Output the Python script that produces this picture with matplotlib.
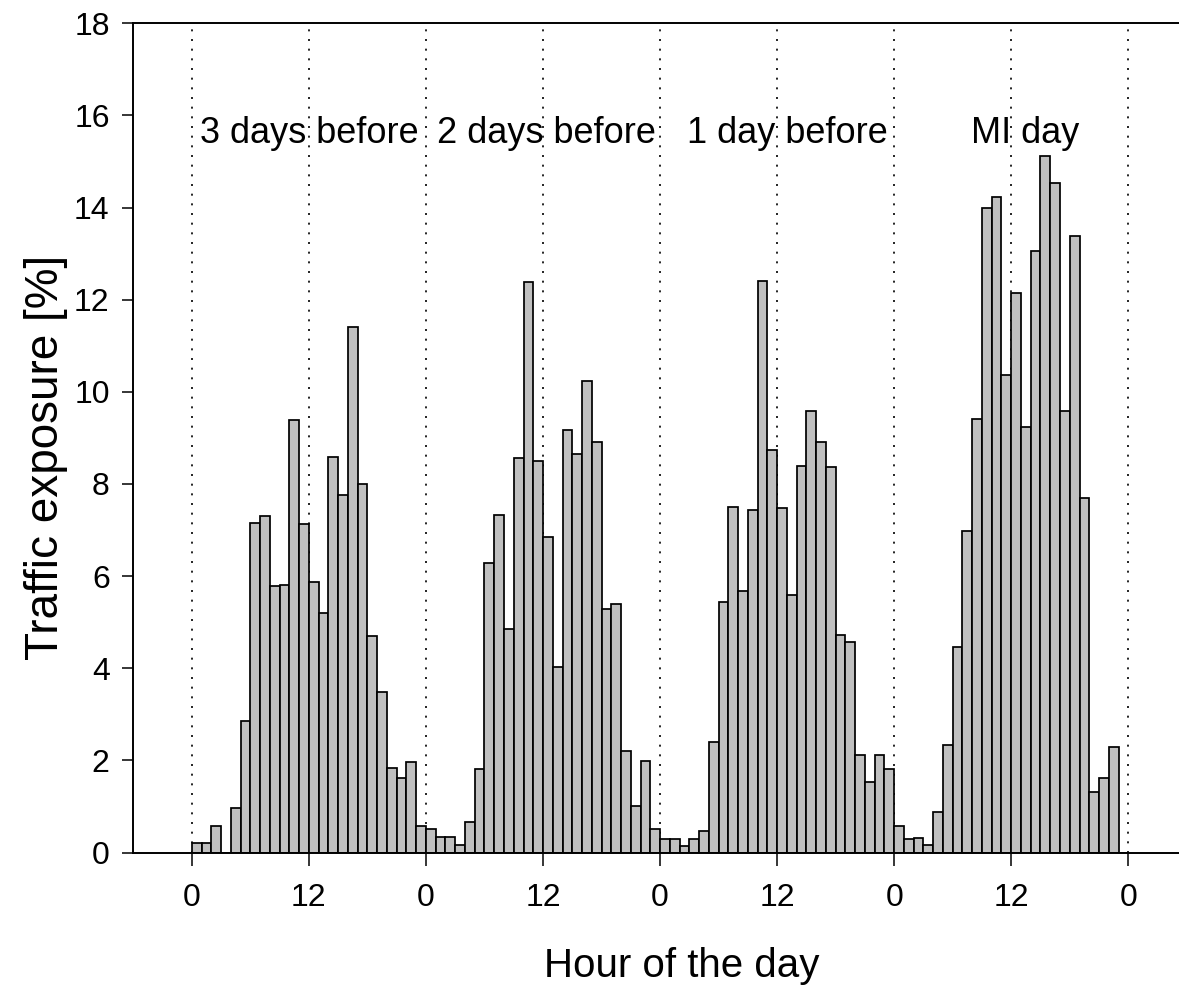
import numpy as np
import matplotlib
matplotlib.use("Agg")
import matplotlib.pyplot as plt

# Hourly share of traffic exposure [%] for the four days leading up to the MI
day_labels = ["3 days before", "2 days before", "1 day before", "MI day"]
label_hours = [12.0, 36.3, 61.1, 85.4]

three_days_before = [0.21, 0.21, 0.58, 0.00, 0.97, 2.86, 7.15, 7.31, 5.79, 5.80, 9.39, 7.14,
                     5.88, 5.19, 8.58, 7.77, 11.41, 7.99, 4.71, 3.48, 1.83, 1.62, 1.96, 0.58]
two_days_before = [0.50, 0.33, 0.33, 0.17, 0.66, 1.81, 6.29, 7.32, 4.85, 8.56, 12.38, 8.49,
                   6.85, 4.02, 9.17, 8.66, 10.23, 8.91, 5.28, 5.40, 2.20, 1.01, 1.99, 0.50]
one_day_before = [0.30, 0.30, 0.15, 0.30, 0.46, 2.41, 5.44, 7.49, 5.67, 7.43, 12.41, 8.74,
                  7.47, 5.59, 8.38, 9.58, 8.91, 8.37, 4.72, 4.56, 2.12, 1.52, 2.12, 1.81]
mi_day = [0.58, 0.30, 0.32, 0.17, 0.87, 2.33, 4.46, 6.98, 9.41, 13.99, 14.22, 10.36,
          12.14, 9.23, 13.06, 15.13, 14.54, 9.59, 13.39, 7.70, 1.32, 1.61, 2.28, 0.00]

tick_positions = [0, 12, 24, 36, 48, 60, 72, 84, 96]
tick_labels = ["0", "12", "0", "12", "0", "12", "0", "12", "0"]
y_ticks = [0, 2, 4, 6, 8, 10, 12, 14, 16, 18]

values = np.concatenate([three_days_before, two_days_before, one_day_before, mi_day])
hours = np.arange(len(values))

plt.rcParams["font.family"] = ["Liberation Sans", "DejaVu Sans"]

fig = plt.figure(figsize=(11.79, 9.89), dpi=100)
ax = fig.add_axes([0.1131, 0.138, 0.8869, 0.8384])

# dotted guides every 12 hours
for h in tick_positions:
    ax.axvline(h, color="black", lw=1.2, linestyle=(0, (1.2, 4.6)), zorder=1)

ax.bar(hours, values, width=1.0, align="edge", color="#c0c0c0",
       edgecolor="black", linewidth=1.25, zorder=2)

for lbl, xh in zip(day_labels, label_hours):
    ax.text(xh, 15.4, lbl, ha="center", va="baseline", fontsize=26, zorder=3)

ax.set_xlim(-6.0, 101.2)
ax.set_ylim(0, 18)
ax.set_xticks(tick_positions)
ax.set_xticklabels(tick_labels)
ax.set_yticks(y_ticks)

ax.spines["right"].set_visible(False)
for s in ["left", "top", "bottom"]:
    ax.spines[s].set_linewidth(1.4)

ax.tick_params(axis="y", direction="out", length=8, width=1.1, pad=9, labelsize=23)
ax.tick_params(axis="x", direction="out", length=9, width=1.1, pad=13, labelsize=23)

fig.text(682 / 1179, 1 - 966 / 989, "Hour of the day", ha="center", va="center", fontsize=29)
fig.text(46 / 1179, 1 - 457 / 989, "Traffic exposure [%]", ha="center", va="center",
         rotation=90, fontsize=33)

fig.savefig("out.png", dpi=100)
